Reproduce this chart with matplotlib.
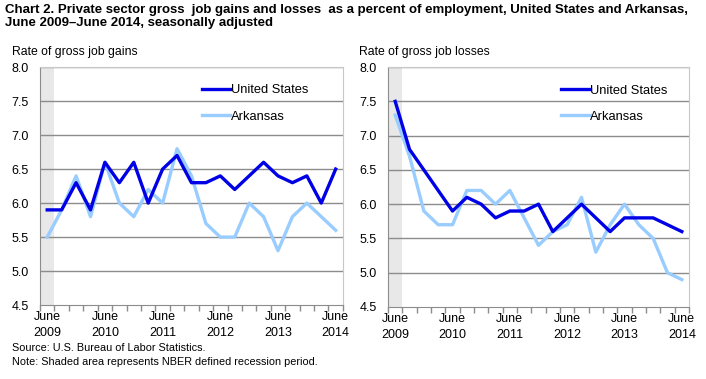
import numpy as np
import matplotlib.pyplot as plt

plt.rcParams['font.family'] = ['Liberation Sans', 'DejaVu Sans']

quarters = np.arange(21)
tick_pos = [0, 4, 8, 12, 16, 20]
tick_labels = ['June\n2009', 'June\n2010', 'June\n2011', 'June\n2012', 'June\n2013', 'June\n2014']

gains_us = [5.9, 5.9, 6.3, 5.9, 6.6, 6.3, 6.6, 6.0, 6.5, 6.7, 6.3,
            6.3, 6.4, 6.2, 6.4, 6.6, 6.4, 6.3, 6.4, 6.0, 6.5]
gains_ar = [5.5, 5.9, 6.4, 5.8, 6.6, 6.0, 5.8, 6.2, 6.0, 6.8, 6.4,
            5.7, 5.5, 5.5, 6.0, 5.8, 5.3, 5.8, 6.0, 5.8, 5.6]
losses_us = [7.5, 6.8, 6.5, 6.2, 5.9, 6.1, 6.0, 5.8, 5.9, 5.9, 6.0,
             5.6, 5.8, 6.0, 5.8, 5.6, 5.8, 5.8, 5.8, 5.7, 5.6]
losses_ar = [7.3, 6.7, 5.9, 5.7, 5.7, 6.2, 6.2, 6.0, 6.2, 5.8, 5.4,
             5.6, 5.7, 6.1, 5.3, 5.7, 6.0, 5.7, 5.5, 5.0, 4.9]

fig = plt.figure(figsize=(7.06, 3.79), dpi=100)
ax1 = fig.add_axes([0.0567, 0.195, 0.429, 0.628])
ax2 = fig.add_axes([0.5496, 0.19, 0.4263, 0.633])

def draw(ax, us, ar, legx):
    ax.axvspan(-0.5, 0.5, color='#e8e8e8', zorder=0, lw=0)
    for y in np.arange(5.0, 8.01, 0.5):
        ax.axhline(y, color='#8c8c8c', lw=1, zorder=1)
    ax.plot(quarters, us, color='#0000e6', lw=2.4, label='United States', zorder=4)
    ax.plot(quarters, ar, color='#99ccff', lw=2.4, label='Arkansas', zorder=3)
    ax.set_xlim(-0.5, 20.5)
    ax.set_ylim(4.5, 8.0)
    ax.set_yticks(np.arange(4.5, 8.01, 0.5))
    ax.set_yticklabels(['%.1f' % v for v in np.arange(4.5, 8.01, 0.5)], fontsize=9)
    ax.tick_params(axis='y', length=0, pad=8)
    ax.set_xticks(tick_pos)
    ax.set_xticklabels(tick_labels, fontsize=9, linespacing=1.45)
    ax.set_xticks(np.arange(-0.5, 20.6, 1), minor=True)
    ax.tick_params(axis='x', which='major', length=0, pad=4)
    ax.tick_params(axis='x', which='minor', length=4, color='#8c8c8c', width=1)
    for s in ['left', 'bottom']:
        ax.spines[s].set_color('#8c8c8c')
    for s in ['top', 'right']:
        ax.spines[s].set_color('#c8c8c8')
    ax.legend(loc='upper left', bbox_to_anchor=(legx, 0.965), frameon=False,
              fontsize=9.3, handlelength=2.2, handletextpad=0.05, labelspacing=1.1,
              borderpad=0.2)

draw(ax1, gains_us, gains_ar, 0.505)
draw(ax2, losses_us, losses_ar, 0.545)

fig.text(12/706, 1-52/379, 'Rate of gross job gains', fontsize=8.8, va='center')
fig.text(359/706, 1-52/379, 'Rate of gross job losses', fontsize=8.8, va='center')

fig.text(5/706, 1-4/379, 'Chart 2. Private sector gross  job gains and losses  as a percent of employment, United States and Arkansas,\nJune 2009\u2013June 2014, seasonally adjusted',
         fontsize=9.5, fontweight='bold', va='top', ha='left', linespacing=1.1,
         family=['Liberation Sans Narrow', 'Liberation Sans', 'DejaVu Sans'])

fig.text(12/706, 1-348/379, 'Source: U.S. Bureau of Labor Statistics.', fontsize=7.8, va='center')
fig.text(12/706, 1-362/379, 'Note: Shaded area represents NBER defined recession period.', fontsize=7.8, va='center')

plt.savefig('out.png', dpi=100)
